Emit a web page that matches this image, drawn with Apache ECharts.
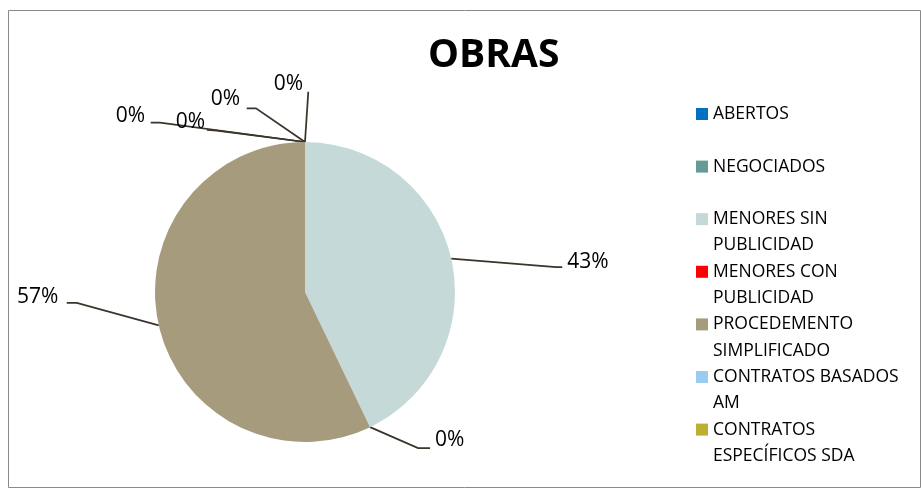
<!DOCTYPE html>
<html>
<head>
<meta charset="utf-8">
<script src="https://cdn.jsdelivr.net/npm/echarts@6/dist/echarts.min.js"></script>
<style>
html,body{margin:0;padding:0;background:#fff;}
#chart{width:921px;height:488px;}
</style>
</head>
<body>
<div id="chart"></div>
<script>
// ---- data ----
const chartTitle = 'OBRAS';
const categories = [
  'ABERTOS',
  'NEGOCIADOS',
  'MENORES SIN PUBLICIDAD',
  'MENORES CON PUBLICIDAD',
  'PROCEDEMENTO SIMPLIFICADO',
  'CONTRATOS BASADOS AM',
  'CONTRATOS ESPECÍFICOS SDA'
];
const values = [0, 0, 3, 0, 4, 0, 0];
const legendLines = [
  ['ABERTOS'],
  ['NEGOCIADOS'],
  ['MENORES SIN', 'PUBLICIDAD'],
  ['MENORES CON', 'PUBLICIDAD'],
  ['PROCEDEMENTO', 'SIMPLIFICADO'],
  ['CONTRATOS BASADOS', 'AM'],
  ['CONTRATOS', 'ESPECÍFICOS SDA']
];

// ---- style ----
const colors = ['#0070C0', '#669A97', '#C4D9D8', '#FF0000', '#A69B7C', '#99CCEE', '#BCB032'];
const FONT = '"Open Sans", "Noto Sans", sans-serif';
const LINE_H = 26.3;
// label offsets relative to the leader-line anchor on the pie edge
const labelOffsets = [
  { line: [[3.3, -50.3]], tx: -2, ty: -58, align: 'right' },
  { line: [[-49, -33.7], [-58.3, -33.7]], tx: -65, ty: -43, align: 'right' },
  { line: [[105, 8.5], [111, 8.5]], tx: 116, ty: 3.5, align: 'left' },
  { line: [[48, 21], [60, 21]], tx: 65, ty: 12.8, align: 'left' },
  { line: [[-82, -22.5], [-92, -22.5]], tx: -100.5, ty: -28.5, align: 'right' },
  { line: [[-145, -19.3], [-154.3, -19.3]], tx: -160, ty: -26, align: 'right' },
  { line: [[-88.3, -11.3], [-98, -12]], tx: -100, ty: -19.5, align: 'right' }
];

const chart = echarts.init(document.getElementById('chart'), null, { renderer: 'canvas' });

const seriesData = categories.map((c, i) => ({
  name: c,
  value: values[i],
  itemStyle: { color: colors[i] }
}));

const option = {
  backgroundColor: '#ffffff',
  animation: false,
  graphic: [{
    type: 'rect',
    shape: { x: 8.5, y: 10.5, width: 912, height: 477 },
    style: { fill: null, stroke: '#898989', lineWidth: 1 },
    silent: true,
    z: -10
  }],
  title: {
    text: chartTitle,
    left: 428,
    top: 36,
    padding: 0,
    textStyle: { fontFamily: FONT, fontWeight: 'bold', fontSize: 39, color: '#000' }
  },
  legend: {
    orient: 'vertical',
    left: 696,
    top: 114 - LINE_H * 1.5,
    padding: 0,
    itemWidth: 12,
    itemHeight: 12,
    itemGap: -LINE_H,
    icon: 'rect',
    selectedMode: false,
    data: categories,
    formatter: function (name) {
      const idx = categories.indexOf(name);
      const lines = legendLines[idx];
      return '\n' + lines[0] + '\n' + (lines[1] || '');
    },
    textStyle: { fontFamily: FONT, fontSize: 17.5, color: '#000', lineHeight: LINE_H }
  },
  series: [{
    type: 'pie',
    center: [305, 292],
    radius: 150,
    startAngle: 90,
    clockwise: true,
    avoidLabelOverlap: false,
    percentPrecision: 0,
    minShowLabelAngle: 0,
    itemStyle: { borderWidth: 0 },
    label: {
      show: true,
      position: 'outside',
      formatter: '{d}%',
      fontFamily: FONT,
      fontSize: 21,
      color: '#000'
    },
    labelLine: {
      show: true,
      length: 20,
      length2: 10,
      lineStyle: { color: '#3a342a', width: 1.75 }
    },
    labelLayout: function (params) {
      const off = labelOffsets[params.dataIndex];
      const pts = params.labelLinePoints;
      if (!off || !pts) return {};
      const p = pts[0];
      const linePts = [[p[0], p[1]]].concat(off.line.map(d => [p[0] + d[0], p[1] + d[1]]));
      return {
        x: p[0] + off.tx,
        y: p[1] + off.ty,
        align: off.align,
        verticalAlign: 'middle',
        labelLinePoints: linePts
      };
    },
    data: seriesData
  }]
};

chart.setOption(option);
</script>
</body>
</html>
